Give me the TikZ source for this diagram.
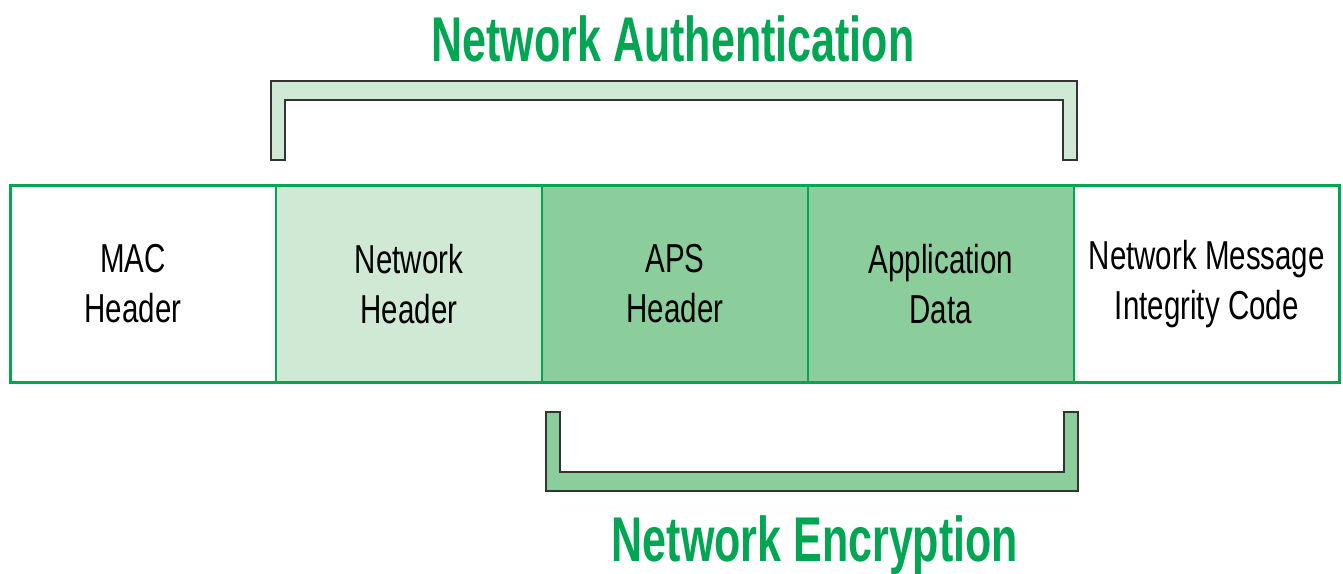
\documentclass[tikz,border=0pt]{standalone}
\usepackage{fontspec}
\setmainfont{Liberation Sans}[FakeStretch=0.73]
\newfontfamily\headfont{Liberation Sans}[FakeStretch=0.68]
\usetikzlibrary{positioning}

\definecolor{secgreen}{HTML}{00A651}
\definecolor{palegreen}{HTML}{D0E9D5}
\definecolor{midgreen}{HTML}{8CCD9C}

\tikzset{
  cell/.style={draw=secgreen, line width=1.1pt, minimum width=5.32cm,
    minimum height=3.96cm, inner sep=0pt, outer sep=0pt, align=center,
    font=\fontsize{23}{28.5}\selectfont},
  brace/.style={draw=black!80, line width=0.6pt},
  caption/.style={text=secgreen, font=\headfont\bfseries\fontsize{36}{40}\selectfont}
}

\begin{document}
\begin{tikzpicture}[x=0.02cm, y=-0.02cm]
    \useasboundingbox (0,0) rectangle (1343,574);

    % Frame cells:
    \node[cell] (mac) at (143,284) {MAC\hspace*{0.4cm}\\Header\hspace*{0.4cm}};
    \node[cell, fill=palegreen, right=0pt of mac] (nwk) {Network\\Header};
    \node[cell, fill=midgreen, right=0pt of nwk] (aps) {APS\\Header};
    \node[cell, fill=midgreen, right=0pt of aps] (data) {Application\\Data};
    \node[cell, right=0pt of data] (mic) {Network Message\\Integrity Code};
    \draw[secgreen, line width=1.7pt] (mac.north west) rectangle (mic.south east);

    % Authentication bracket:
    \draw[brace, fill=palegreen] (271,160) -- (271,81) -- (1077,81) -- (1077,160)
      -- (1063,160) -- (1063,100) -- (285,100) -- (285,160) -- cycle;
    \node[caption] (auth) at (673,39) {Network Authentication};

    % Encryption bracket:
    \draw[brace, fill=midgreen] (546,412) -- (546,491) -- (1078,491) -- (1078,412)
      -- (1064,412) -- (1064,472) -- (560,472) -- (560,412) -- cycle;
    \node[caption] (enc) at (815,545) {Network Encryption};
\end{tikzpicture}
\end{document}
